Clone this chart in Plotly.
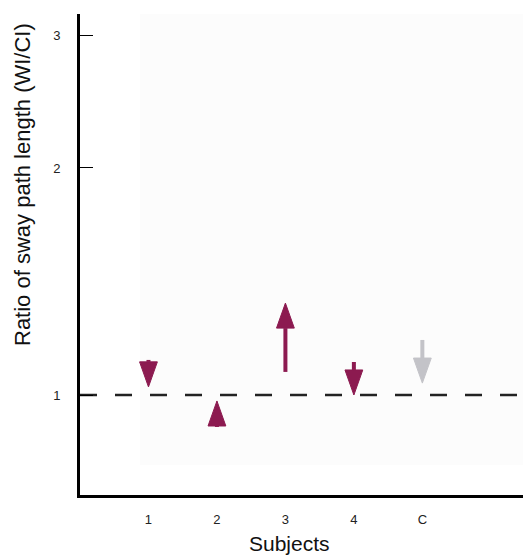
import numpy as np
import plotly.graph_objects as go

# ---- data ----
subjects = ["1", "2", "3", "4", "C"]
ratio_start = [1.113, 0.907, 1.073, 1.106, 1.183]
ratio_end = [1.025, 0.982, 1.324, 1.000, 1.037]
arrow_colors = ["#8c1a50", "#8c1a50", "#8c1a50", "#8c1a50", "#c3c3c8"]
y_ticks = [1, 2, 3]
reference_level = 1.0

# ---- geometry / style ----
y_range_log = [-0.1326, 0.5052]
x_range = [0, 6.47]
head_len = 0.0332     # decades
head_half_w = 0.13    # x units

fig = go.Figure()

# faint background panel
fig.add_shape(type="rect", xref="paper", yref="paper", x0=60/443, x1=1.0,
              y0=30/481, y1=1.0, fillcolor="#fcfcfc", line_width=0, layer="below")

# dashed reference line
fig.add_trace(go.Scatter(x=[x_range[0], x_range[1]], y=[reference_level, reference_level],
                         mode="lines", line=dict(color="#222222", width=2.5, dash="17px,18px"),
                         hoverinfo="skip", showlegend=False))

for i, (s, e, c) in enumerate(zip(ratio_start, ratio_end, arrow_colors)):
    x = i + 1
    d = np.sign(np.log10(e) - np.log10(s))
    base = e / 10 ** (d * head_len)
    # shaft
    if (np.log10(base) - np.log10(s)) * d > 0:
        fig.add_trace(go.Scatter(x=[x, x], y=[s, base], mode="lines",
                                 line=dict(color=c, width=4), hoverinfo="skip",
                                 showlegend=False))
    # head
    fig.add_trace(go.Scatter(x=[x - head_half_w, x + head_half_w, x, x - head_half_w],
                             y=[base, base, e, base], mode="lines", fill="toself",
                             fillcolor=c, line=dict(color=c, width=1),
                             hoverinfo="skip", showlegend=False))

font_family = "Arial, Liberation Sans, sans-serif"
fig.update_layout(
    width=523, height=556,
    margin=dict(l=80, r=0, t=14, b=61, autoexpand=False),
    paper_bgcolor="white", plot_bgcolor="white",
    showlegend=False,
    font=dict(family=font_family, color="#111111"),
    xaxis=dict(range=x_range, tickvals=list(range(1, len(subjects) + 1)),
               ticktext=subjects, showgrid=False, zeroline=False,
               showline=True, linecolor="black", linewidth=3,
               ticks="outside", ticklen=10, tickcolor="rgba(0,0,0,0)",
               tickfont=dict(size=13, color="#222222")),
    yaxis=dict(type="log", range=y_range_log, tickvals=y_ticks,
               ticktext=[str(v) for v in y_ticks], showgrid=False, zeroline=False,
               showline=True, linecolor="black", linewidth=3,
               ticks="inside", ticklen=13, tickwidth=1.2, tickcolor="black",
               ticklabelstandoff=14, tickfont=dict(size=13, color="#222222")),
)

fig.add_annotation(text="Ratio of sway path length (WI/CI)", xref="paper", yref="paper",
                   x=(23 - 80) / 443, y=(495 - 185) / 481, textangle=-90,
                   xanchor="center", yanchor="middle",
                   showarrow=False, font=dict(size=22, family=font_family, color="#111111"))
fig.add_annotation(text="Subjects", xref="paper", yref="paper",
                   x=(289 - 80) / 443, y=(495 - 543) / 481,
                   xanchor="center", yanchor="middle",
                   showarrow=False, font=dict(size=21, family=font_family, color="#111111"))

fig.write_html("out.html", post_script="document.body.style.margin='0';",
               config={"displayModeBar": False})
